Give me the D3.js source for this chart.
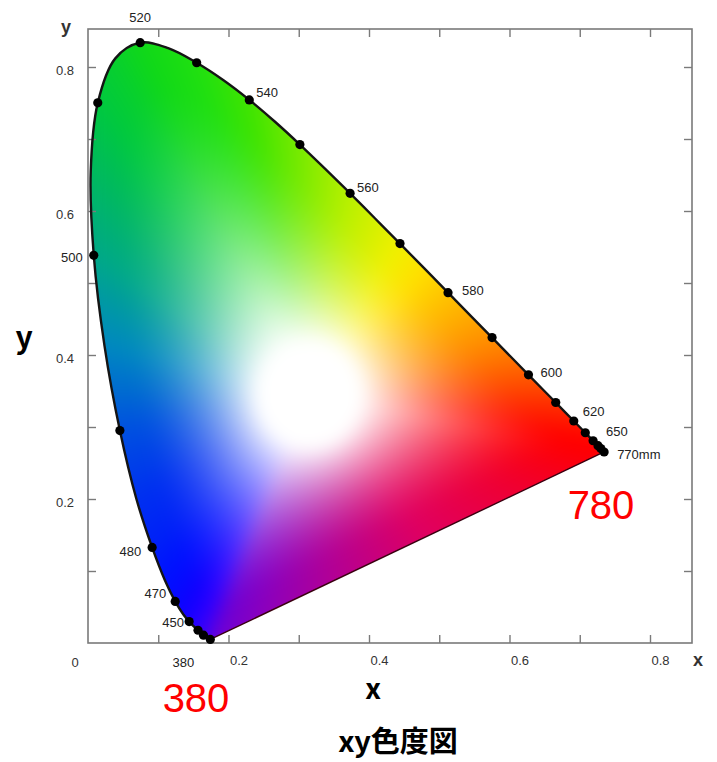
<!DOCTYPE html>
<html>
<head>
<meta charset="utf-8">
<script src="https://cdn.jsdelivr.net/npm/d3@7"></script>
<style>
  body { margin: 0; background: #fff; }
  svg { display: block; font-family: "Liberation Sans", Arial, sans-serif; }
</style>
</head>
<body>
<div id="chart"></div>
<script>
// CIE 1931 spectral locus, 5 nm steps (read along the horseshoe edge)
var wavelengths = [380,385,390,395,400,405,410,415,420,425,430,435,440,445,450,455,460,465,470,475,
  480,485,490,495,500,505,510,515,520,525,530,535,540,545,550,555,560,565,570,575,
  580,585,590,595,600,605,610,615,620,625,630,635,640,645,650,655,660,665,670,675,680,690,700,780];
var locusX = [0.1741,0.1740,0.1738,0.1736,0.1733,0.1730,0.1726,0.1721,0.1714,0.1703,0.1689,0.1669,0.1644,0.1611,0.1566,0.1510,0.1440,0.1355,0.1241,0.1096,
  0.0913,0.0687,0.0454,0.0235,0.0082,0.0039,0.0139,0.0389,0.0743,0.1142,0.1547,0.1929,0.2296,0.2658,0.3016,0.3373,0.3731,0.4087,0.4441,0.4788,
  0.5125,0.5448,0.5752,0.6029,0.6270,0.6482,0.6658,0.6801,0.6915,0.7006,0.7079,0.7140,0.7190,0.7230,0.7260,0.7283,0.7300,0.7311,0.7320,0.7327,0.7334,0.7344,0.7347,0.7347];
var locusY = [0.0050,0.0050,0.0049,0.0049,0.0048,0.0048,0.0048,0.0048,0.0051,0.0058,0.0069,0.0086,0.0109,0.0138,0.0177,0.0227,0.0297,0.0399,0.0578,0.0868,
  0.1327,0.2007,0.2950,0.4127,0.5384,0.6548,0.7502,0.8120,0.8338,0.8262,0.8059,0.7816,0.7543,0.7243,0.6923,0.6589,0.6245,0.5896,0.5547,0.5202,
  0.4866,0.4544,0.4242,0.3965,0.3725,0.3514,0.3340,0.3197,0.3083,0.2993,0.2920,0.2859,0.2809,0.2770,0.2740,0.2717,0.2700,0.2689,0.2680,0.2673,0.2666,0.2656,0.2653,0.2653];

// wavelengths marked with a dot
var dotWl = [380,440,450,460,470,480,490,500,510,520,530,540,550,560,570,580,590,600,610,620,630,640,650,660,780];
// wavelengths with a small label
var labelWl = [380,450,470,480,500,520,540,560,580,600,620,650,780];
var labelText = ["380","450","470","480","500","520","540","560","580","600","620","650","770mm"];

var xTicks = [0.1,0.2,0.3,0.4,0.5,0.6,0.7,0.8];
var yTicks = [0.1,0.2,0.3,0.4,0.5,0.6,0.7,0.8];
var tickLabels = [0.2,0.4,0.6,0.8];

// white centre of the colour fill
var whiteX = 0.315, whiteY = 0.345;

// colour stops along the edge (style)
var edgeStopWl = [380,420,450,465,475,485,490,495,500,505,510,520,530,540,550,560,570,575,580,590,600,610,620,640,780];
var edgeStopCol = ["#6800d8","#5000e8","#3000ff","#1000ff","#0010ff","#0030f0","#0050e0","#0088c0","#00a888","#00b860","#00c840",
  "#10d818","#20e010","#40e400","#78ea00","#b8f000","#f0f000","#ffe000","#ffc400","#ff9000","#ff5a00","#ff3000","#ff1800","#ff0000","#ff0000"];
var purpleStopT = [0, 0.2, 0.45, 0.7, 0.88, 1];
var purpleStopCol = ["#ff0000","#f00030","#e00060","#b00098","#8800c0","#6800d8"];

// label placement relative to the dot (layout only)
var labelPos = {
  380: [-27, 23, "middle"], 450: [-14, -8, "end"], 470: [-9, -8, "end"], 480: [-11, 4, "end"],
  500: [-11, 2, "end"], 520: [0, -25, "middle"], 540: [7, -7, "start"], 560: [7, -6, "start"],
  580: [14, -2, "start"], 600: [12, -2, "start"], 620: [9, -10, "start"], 650: [8, -14, "start"],
  780: [13, 2, "start"]
};

var width = 717, height = 762;
var frame = { left: 88, right: 692, top: 29, bottom: 643 };

var x = d3.scaleLinear().domain([0, 0.8]).range([88, 650]);
var y = d3.scaleLinear().domain([0, 0.8]).range([643, 67]);

var svg = d3.select("#chart").append("svg")
  .attr("width", width).attr("height", height);

var pts = wavelengths.map(function(w, i) { return { w: w, x: locusX[i], y: locusY[i] }; });

var locusLine = d3.line().x(d => x(d.x)).y(d => y(d.y)).curve(d3.curveCatmullRom);
var straight = d3.line().x(d => x(d.x)).y(d => y(d.y));

// ---- colour fill: blend from white centre to the edge colour ----
var edgeColor = d3.scaleLinear().domain(edgeStopWl).range(edgeStopCol).interpolate(d3.interpolateRgb);
var purpleColor = d3.scaleLinear().domain(purpleStopT).range(purpleStopCol).interpolate(d3.interpolateRgb);

var edge = [];
for (var i = 0; i < pts.length - 1; i++) {
  for (var s = 0; s < 10; s++) {
    var t = s / 10, a = pts[i], b = pts[i + 1];
    edge.push({ x: a.x + (b.x - a.x) * t, y: a.y + (b.y - a.y) * t, c: d3.rgb(edgeColor(a.w + (b.w - a.w) * t)) });
  }
}
var p780 = pts[pts.length - 1], p380 = pts[0];
for (var s = 0; s <= 300; s++) {
  var t = s / 300;
  edge.push({ x: p780.x + (p380.x - p780.x) * t, y: p780.y + (p380.y - p780.y) * t, c: d3.rgb(purpleColor(t)) });
}
edge.forEach(function(e) {
  e.a = Math.atan2(e.y - whiteY, e.x - whiteX);
  e.r = Math.hypot(e.y - whiteY, e.x - whiteX);
});
edge.sort((p, q) => p.a - q.a);
var bisectA = d3.bisector(e => e.a).left;

function fillColor(cx, cy) {
  var ang = Math.atan2(cy - whiteY, cx - whiteX);
  var d = Math.hypot(cy - whiteY, cx - whiteX);
  var k = bisectA(edge, ang);
  var e = edge[Math.min(k, edge.length - 1)];
  if (k > 0 && Math.abs(edge[k - 1].a - ang) < Math.abs(e.a - ang)) e = edge[k - 1];
  var r0 = 0.072;
  var u = Math.max(0, Math.min(1, (d - r0) / (0.9 * e.r - r0)));
  var f = 1 - Math.pow(1 - u, 1.7);
  return [255 + (e.c.r - 255) * f, 255 + (e.c.g - 255) * f, 255 + (e.c.b - 255) * f];
}

var cw = frame.right - frame.left, ch = frame.bottom - frame.top;
var raw = document.createElement("canvas");
raw.width = cw; raw.height = ch;
var rctx = raw.getContext("2d");
var img = rctx.createImageData(cw, ch);
for (var j = 0; j < ch; j++) {
  var cy = y.invert(frame.top + j + 0.5);
  for (var i = 0; i < cw; i++) {
    var cx = x.invert(frame.left + i + 0.5);
    var k = (j * cw + i) * 4;
    var rgb = fillColor(cx, cy);
    img.data[k] = rgb[0]; img.data[k + 1] = rgb[1]; img.data[k + 2] = rgb[2]; img.data[k + 3] = 255;
  }
}
rctx.putImageData(img, 0, 0);

// soften the fill a little, like the printed figure
var canvas = document.createElement("canvas");
canvas.width = cw; canvas.height = ch;
var ctx = canvas.getContext("2d");
ctx.drawImage(raw, 0, 0);
ctx.filter = "blur(8px)";
ctx.drawImage(raw, 0, 0);

svg.append("clipPath").attr("id", "locus-clip")
  .append("path").attr("d", locusLine(pts) + "Z");

svg.append("image")
  .attr("x", frame.left).attr("y", frame.top)
  .attr("width", cw).attr("height", ch)
  .attr("href", canvas.toDataURL())
  .attr("clip-path", "url(#locus-clip)");

// frame and inward ticks
svg.append("rect")
  .attr("x", frame.left).attr("y", frame.top)
  .attr("width", cw).attr("height", ch)
  .attr("fill", "none").attr("stroke", "#7a7a7a").attr("stroke-width", 1.6);

var fmt = d => tickLabels.indexOf(d) >= 0 ? d3.format(".1f")(d) : "";

var gBottom = svg.append("g").attr("transform", "translate(0," + frame.bottom + ")")
  .call(d3.axisBottom(x).tickValues(xTicks).tickSize(-8).tickPadding(13).tickFormat(fmt));
gBottom.selectAll("text").attr("dx", 10);

svg.append("g").attr("transform", "translate(0," + frame.top + ")")
  .call(d3.axisTop(x).tickValues(xTicks).tickSize(-8).tickFormat(""));

var gLeft = svg.append("g").attr("transform", "translate(" + frame.left + ",0)")
  .call(d3.axisLeft(y).tickValues(yTicks).tickSize(-8).tickPadding(14).tickFormat(fmt));
gLeft.selectAll("text").attr("dy", "0.6em");

svg.append("g").attr("transform", "translate(" + frame.right + ",0)")
  .call(d3.axisRight(y).tickValues(yTicks).tickSize(-8).tickFormat(""));

svg.selectAll(".domain").remove();
svg.selectAll(".tick line").attr("stroke", "#7a7a7a").attr("stroke-width", 1.4);
svg.selectAll(".tick text").attr("fill", "#333").style("font-size", "13px")
  .style("font-family", "Liberation Sans, Arial, sans-serif");

svg.append("text").attr("x", 75).attr("y", 667)
  .attr("text-anchor", "middle").attr("fill", "#333").style("font-size", "13px").text("0");
svg.append("text").attr("x", 66).attr("y", 33)
  .attr("text-anchor", "middle").attr("fill", "#333").style("font-size", "18px").style("font-weight", "bold").text("y");
svg.append("text").attr("x", 698).attr("y", 666)
  .attr("text-anchor", "middle").attr("fill", "#333").style("font-size", "18px").style("font-weight", "bold").text("x");

// spectral locus outline and purple line
svg.append("path")
  .attr("d", locusLine(pts))
  .attr("fill", "none").attr("stroke", "#151515").attr("stroke-width", 2.4);
svg.append("path")
  .attr("d", straight([p780, p380]))
  .attr("fill", "none").attr("stroke", "#3a0010").attr("stroke-width", 1.4);

var dotPts = dotWl.map(w => pts[wavelengths.indexOf(w)]);
svg.selectAll(".dot").data(dotPts).enter().append("circle")
  .attr("class", "dot")
  .attr("cx", d => x(d.x)).attr("cy", d => y(d.y))
  .attr("r", 4.6).attr("fill", "#000");

labelWl.forEach(function(w, i) {
  var p = pts[wavelengths.indexOf(w)], o = labelPos[w];
  svg.append("text")
    .attr("x", x(p.x) + o[0]).attr("y", y(p.y) + o[1]).attr("dy", "0.35em")
    .attr("text-anchor", o[2]).attr("fill", "#222")
    .style("font-size", "13px").text(labelText[i]);
});

// big annotations
svg.append("text").attr("x", 196).attr("y", 712).attr("text-anchor", "middle")
  .attr("fill", "#ff0000").style("font-size", "40px").text("380");
svg.append("text").attr("x", 601).attr("y", 519).attr("text-anchor", "middle")
  .attr("fill", "#ff0000").style("font-size", "40px").text("780");

svg.append("text").attr("x", 24).attr("y", 348).attr("text-anchor", "middle")
  .style("font-family", "'Noto Sans CJK JP', sans-serif").style("font-weight", "bold")
  .style("font-size", "30px").text("y");
svg.append("text").attr("x", 373).attr("y", 699).attr("text-anchor", "middle")
  .style("font-family", "'Noto Sans CJK JP', sans-serif").style("font-weight", "bold")
  .style("font-size", "28px").text("x");
svg.append("text").attr("x", 398).attr("y", 752).attr("text-anchor", "middle")
  .style("font-family", "'Noto Sans CJK JP', sans-serif").style("font-weight", "bold")
  .style("font-size", "29px").text("xy色度図");
</script>
</body>
</html>
